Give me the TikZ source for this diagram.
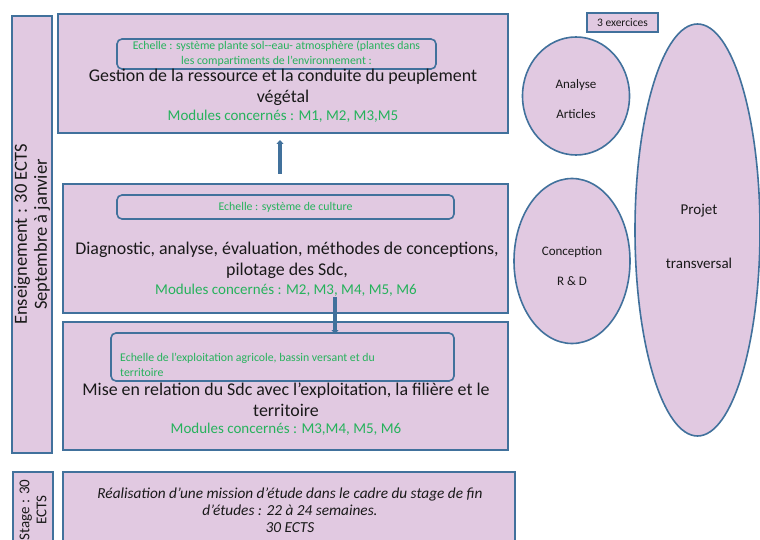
\documentclass[tikz,border=0pt]{standalone}
\usepackage{fontspec}
\setmainfont{Carlito}
\usetikzlibrary{arrows.meta,shapes.geometric}
\definecolor{lav}{RGB}{225,201,225}
\definecolor{bord}{RGB}{65,113,156}
\definecolor{grn}{RGB}{38,178,92}
\definecolor{txt}{RGB}{25,25,25}
\newcommand{\fsz}[2]{\fontsize{#1}{#2}\selectfont}
\tikzset{
  box/.style={draw=bord, fill=lav, line width=1.6pt, inner sep=0pt, rectangle},
  rbox/.style={draw=bord, line width=1.6pt, inner sep=0pt, rounded corners=5pt, rectangle},
  oval/.style={draw=bord, fill=lav, line width=1.6pt, inner sep=0pt, ellipse},
  main/.style={text=txt, align=center, font=\fsz{17.9}{21}, inner sep=1pt},
  modl/.style={text=grn, align=center, font=\fsz{15}{17}},
  ech/.style={text=grn, font=\fsz{11.8}{15}, inner sep=1pt},
  arr/.style={draw=bord, line width=3.5pt, -{Triangle[length=4pt,width=7pt]}},
  small/.style={text=txt, align=center, font=\fsz{13}{15}}
}
\begin{document}
\begin{tikzpicture}[x=1pt,y=-1pt]
\clip (0,0) rectangle (760,540);
\fill[white] (0,0) rectangle (760,540);
% left column
\node[box, minimum width=40, minimum height=437] (ens) at (32,234.5) {};
\node[text=txt, align=center, rotate=90, font=\fsz{18.5}{20}] (enst) at (ens.center) {Enseignement : 30 ECTS\\Septembre à janvier};
\node[box, minimum width=40, minimum height=80] (stage) at (33,512) {};
\node[text=txt, align=center, rotate=90, font=\fsz{15}{17}] (staget) at (33,510) {Stage : 30\\ECTS};
% box 1
\node[box, minimum width=450, minimum height=119] (b1) at (283,73.5) {};
\node[rbox, minimum width=319, minimum height=30] (i1) at (276.5,54) {};
\node[ech, align=center] (i1t) at (276.5,53.5) {Echelle : système plante sol-{}-eau- atmosphère (plantes dans\\les compartiments de l’environnement :};
\node[main] (b1t) at (283,87) {Gestion de la ressource et la conduite du peuplement\\végétal};
\node[modl] (b1m) at (283,116) {Modules concernés : M1, M2, M3,M5};
% box 2
\node[box, minimum width=445, minimum height=129] (b2) at (285.5,248.5) {};
\node[rbox, minimum width=337, minimum height=24] (i2) at (285.5,207) {};
\node[ech] (i2t) at (i2.center) {Echelle : système de culture};
\node[main] (b2t) at (287,260.5) {Diagnostic, analyse, évaluation, méthodes de conceptions,\\pilotage des Sdc,};
\node[modl] (b2m) at (286,290) {Modules concernés : M2, M3, M4, M5, M6};
% box 3
\node[box, minimum width=445, minimum height=128] (b3) at (285.5,386) {};
\node[rbox, minimum width=343, minimum height=48] (i3) at (282.5,357) {};
\node[ech, align=left, anchor=west] (i3t) at (119,364.5) {Echelle de l’exploitation agricole, bassin versant et du\\territoire};
\node[main] (b3t) at (286,400) {Mise en relation du Sdc avec l’exploitation, la filière et le\\territoire};
\node[modl] (b3m) at (286,429) {Modules concernés : M3,M4, M5, M6};
% box 4
\node[box, minimum width=452, minimum height=80] (b4) at (289,512) {};
\node[text=txt, align=center, font=\itshape\fsz{15.3}{17}] (b4t) at (290,510) {Réalisation d'une mission d'étude dans le cadre du stage de fin\\d'études : 22 à 24 semaines.\\30 ECTS};
% arrows
\coordinate (a1s) at (280,174);
\coordinate (a1e) at (280,140);
\draw[arr] (a1s) -- (a1e);
\coordinate (a2s) at (335,297);
\coordinate (a2e) at (335,334);
\draw[arr] (a2s) -- (a2e);
% right side
\node[box, line width=1.3pt, minimum width=71, minimum height=19] (ex) at (622.5,22.5) {};
\node[text=txt, font=\fsz{11.5}{12}] (ext) at (ex.center) {3 exercices};
\node[oval, minimum width=107, minimum height=118] (e1) at (576,96) {};
\node[small] (e1t) at (576,99.5) {Analyse\\[15pt]Articles};
\node[oval, minimum width=116, minimum height=165] (e2) at (572,261) {};
\node[small] (e2t) at (572,266.5) {Conception\\[15pt]R \& D};
\node[oval, minimum width=125, minimum height=412] (e3) at (697.5,230) {};
\node[text=txt, align=center, font=\fsz{15}{17}] (e3t) at (699,236) {Projet\\[37pt]transversal};
\end{tikzpicture}
\end{document}
